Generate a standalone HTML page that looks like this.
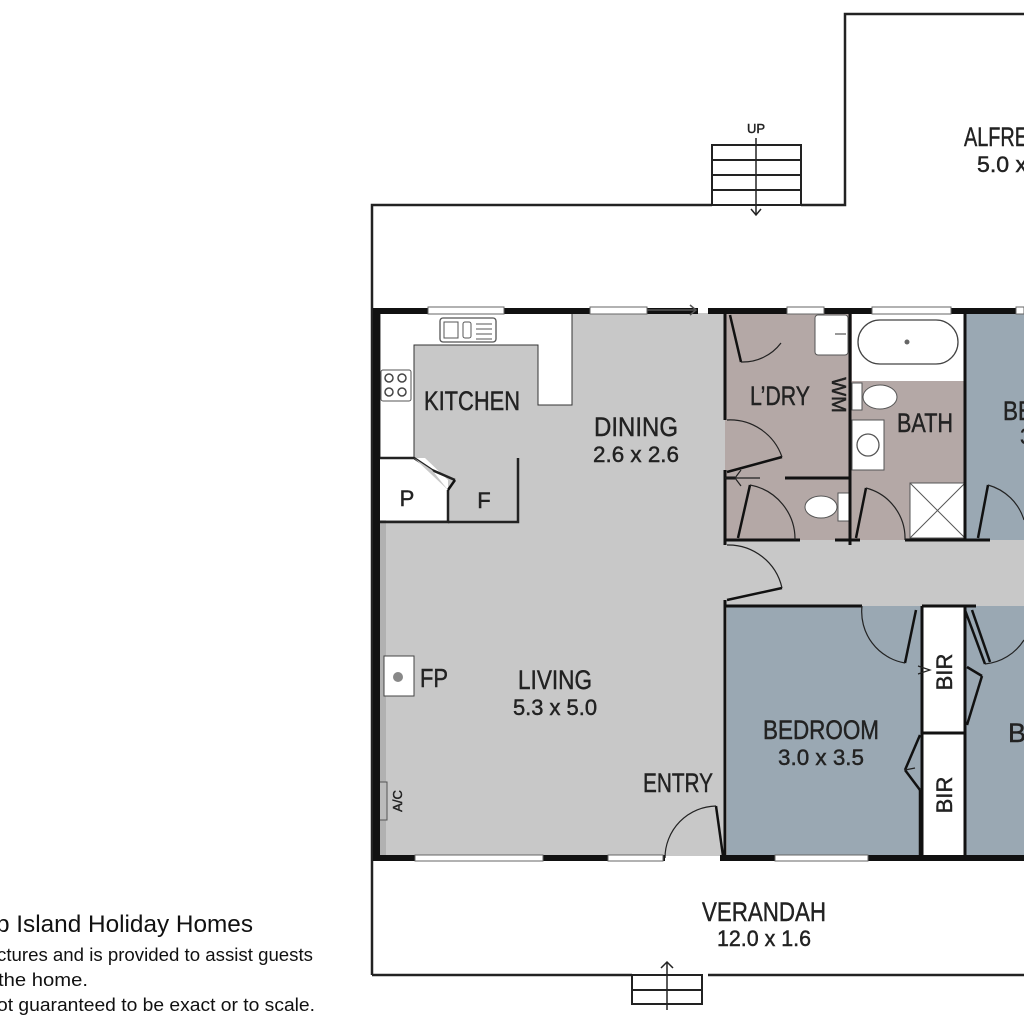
<!DOCTYPE html>
<html><head><meta charset="utf-8"><style>
html,body{margin:0;padding:0;background:#fff;width:1024px;height:1024px;overflow:hidden}
svg{display:block}
text{font-family:"Liberation Sans Narrow","Liberation Sans",sans-serif;fill:#222;stroke:#222;stroke-width:0.45}
.c{font-family:"Liberation Sans",sans-serif;fill:#111;stroke:none}
</style></head><body>
<svg width="1024" height="1024" viewBox="0 0 1024 1024" xmlns="http://www.w3.org/2000/svg">
<g fill="none" stroke="#222" stroke-width="2.5">
<polyline points="372,975 372,205 712,205"/>
<polyline points="801,205 845,205 845,14 1024,14"/>
<polyline points="632,975 372,975"/>
<polyline points="708,975 1024,975"/>
</g>
<g fill="none" stroke="#222" stroke-width="2">
<rect x="712" y="145" width="89" height="60"/>
<line x1="712" y1="160" x2="801" y2="160"/><line x1="712" y1="175" x2="801" y2="175"/><line x1="712" y1="190" x2="801" y2="190"/>
<line x1="756" y1="138" x2="756" y2="215" stroke-width="1.5"/>
<polyline points="751,209 756,215 761,209" stroke-width="1.5"/>
</g>
<text x="756" y="133" font-size="13" text-anchor="middle">UP</text>
<g fill="none" stroke="#222" stroke-width="2">
<rect x="632" y="975" width="70" height="29"/>
<line x1="632" y1="990" x2="702" y2="990"/>
<line x1="667" y1="962" x2="667" y2="1010" stroke-width="1.5"/>
<polyline points="661,968 667,962 673,968" stroke-width="1.5"/>
</g>
<rect x="380" y="313" width="345" height="543" fill="#c8c8c8"/>
<rect x="725" y="540" width="299" height="66" fill="#c8c8c8"/>
<rect x="725" y="313" width="240" height="227" fill="#b4a8a6"/>
<rect x="965" y="313" width="59" height="227" fill="#9aa8b3"/>
<rect x="727" y="606" width="195" height="250" fill="#9aa8b3"/>
<rect x="922" y="606" width="43" height="250" fill="#fff"/>
<rect x="965" y="606" width="59" height="250" fill="#9aa8b3"/>
<rect x="380" y="313" width="6" height="543" fill="#999" opacity=".5"/>
<path d="M380,313 H572 V405 H538 V345 H414 V458 H380 Z" fill="#fff" stroke="#333" stroke-width="1"/>
<path d="M380,458 H425 L448,480 V520 H380 Z" fill="#fff"/>
<g fill="none" stroke="#222" stroke-width="2.5">
<polyline points="380,458 414,458 432,470 455,480"/>
<polyline points="448,490 448,522 380,522"/>
<polyline points="448,522 518,522 518,458"/>
</g>
<rect x="440" y="318" width="56" height="24" rx="3" fill="#fff" stroke="#555" stroke-width="1.3"/>
<rect x="444" y="322" width="14" height="16" fill="none" stroke="#555"/>
<rect x="463" y="322" width="8" height="16" rx="2" fill="none" stroke="#555"/>
<g stroke="#555"><line x1="476" y1="324" x2="492" y2="324"/><line x1="476" y1="329" x2="492" y2="329"/><line x1="476" y1="334" x2="492" y2="334"/><line x1="476" y1="339" x2="492" y2="339"/></g>
<rect x="381" y="370" width="30" height="31" rx="2" fill="#fff" stroke="#555"/>
<g fill="none" stroke="#444" stroke-width="1.5"><circle cx="389" cy="378" r="4"/><circle cx="402" cy="378" r="4"/><circle cx="389" cy="392" r="4"/><circle cx="402" cy="392" r="4"/></g>
<rect x="384" y="656" width="30" height="40" fill="#fff" stroke="#444"/>
<circle cx="398" cy="677" r="5" fill="#888"/>
<rect x="379" y="782" width="8" height="38" fill="#bbb" stroke="#555"/>
<rect x="852" y="313" width="113" height="68" fill="#fff"/>
<rect x="858" y="320" width="100" height="44" rx="22" fill="#fff" stroke="#444" stroke-width="1.3"/>
<circle cx="907" cy="342" r="2.5" fill="#666"/>
<rect x="815" y="315" width="33" height="40" rx="3" fill="#fff" stroke="#555"/>
<line x1="835" y1="334" x2="846" y2="334" stroke="#333"/>
<rect x="852" y="383" width="10" height="27" fill="#fff" stroke="#555"/>
<ellipse cx="880" cy="397" rx="17" ry="12" fill="#fff" stroke="#555"/>
<rect x="852" y="420" width="32" height="50" fill="#fff" stroke="#555"/>
<circle cx="868" cy="445" r="11" fill="#fff" stroke="#555" stroke-width="1.3"/>
<rect x="910" y="483" width="55" height="55" fill="#fff" stroke="#555"/>
<line x1="910" y1="483" x2="965" y2="538" stroke="#555"/><line x1="965" y1="483" x2="910" y2="538" stroke="#555"/>
<rect x="838" y="493" width="11" height="28" fill="#fff" stroke="#555"/>
<ellipse cx="821" cy="507" rx="16" ry="11" fill="#fff" stroke="#555"/>
<g fill="#111">
<rect x="373" y="308" width="325" height="6"/>
<rect x="708" y="308" width="316" height="6"/>
<rect x="373" y="308" width="7" height="553"/>
<rect x="373" y="855" width="292" height="6"/>
<rect x="720" y="855" width="304" height="6"/>
</g>
<g fill="#fff" stroke="#666" stroke-width="1">
<rect x="428" y="307" width="76" height="7"/><rect x="590" y="307" width="57" height="7"/>
<rect x="787" y="307" width="37" height="7"/><rect x="872" y="307" width="79" height="7"/>
<rect x="1016" y="307" width="8" height="7"/>
<rect x="415" y="855" width="128" height="6"/><rect x="608" y="855" width="55" height="6"/>
<rect x="775" y="855" width="93" height="6"/>
</g>
<line x1="647" y1="310" x2="696" y2="310" stroke="#555" stroke-width="1.5"/>
<polyline points="690,305 696,310 690,315" fill="none" stroke="#555" stroke-width="1.5"/>
<g stroke="#111" stroke-width="3" fill="none">
<line x1="725" y1="313" x2="725" y2="420"/>
<line x1="725" y1="470" x2="725" y2="545"/>
<line x1="725" y1="600" x2="725" y2="858"/>
<line x1="850" y1="313" x2="850" y2="545"/>
<line x1="725" y1="478" x2="735" y2="478"/><line x1="785" y1="478" x2="850" y2="478"/>
<line x1="725" y1="540" x2="800" y2="540"/><line x1="835" y1="540" x2="860" y2="540"/><line x1="905" y1="540" x2="990" y2="540"/>
<line x1="965" y1="313" x2="965" y2="540"/>
<line x1="725" y1="606" x2="862" y2="606"/><line x1="922" y1="606" x2="965" y2="606"/><line x1="965" y1="606" x2="976" y2="606"/>
<line x1="922" y1="606" x2="922" y2="856"/>
<line x1="965" y1="606" x2="965" y2="856"/>
<line x1="922" y1="733" x2="965" y2="733"/>
</g>
<g stroke="#111" stroke-width="2.5" fill="none">
<line x1="730" y1="315" x2="741" y2="362"/>
<line x1="727" y1="472" x2="782" y2="457"/>
<line x1="750" y1="485" x2="738" y2="538"/>
<line x1="866" y1="488" x2="856" y2="538"/>
<line x1="988" y1="485" x2="978" y2="538"/>
<line x1="727" y1="600" x2="782" y2="588"/>
<line x1="916" y1="610" x2="905" y2="663"/>
<line x1="965" y1="610" x2="985" y2="664"/>
<line x1="972" y1="610" x2="990" y2="662"/>
<line x1="920" y1="790" x2="905" y2="770"/><line x1="905" y1="770" x2="920" y2="735"/>
<line x1="920" y1="790" x2="920" y2="856"/>
<line x1="967" y1="667" x2="982" y2="676"/><line x1="982" y1="676" x2="967" y2="725"/>
<line x1="716" y1="806" x2="723" y2="856"/>
<line x1="455" y1="480" x2="448" y2="490"/>
</g>
<g stroke="#222" stroke-width="1.2" fill="none">
<path d="M741,362 A48,48 0 0 0 781,343"/>
<path d="M727,420 A55,55 0 0 1 782,457"/>
<path d="M750,485 A55,55 0 0 1 795,540"/>
<path d="M866,488 A52,52 0 0 1 905,540"/>
<path d="M988,485 A52,52 0 0 1 1024,520"/>
<path d="M727,545 A55,55 0 0 1 782,588"/>
<path d="M862,606 A52,52 0 0 0 905,663"/>
<path d="M985,664 A52,52 0 0 0 1024,640"/>
<path d="M716,806 A52,52 0 0 0 665,858"/>
<path d="M725,478 L760,478 M741,470 L735,478 L741,486"/>
<path d="M918,666 L930,670 L918,674"/>
<path d="M905,770 L915,768"/>
</g>
<path d="M414,458 L432,470 448,490 Z" fill="#c8c8c8"/>
<text x="472" y="410" font-size="27" text-anchor="middle" textLength="96" lengthAdjust="spacingAndGlyphs">KITCHEN</text>
<text x="636" y="436" font-size="27" text-anchor="middle" textLength="84" lengthAdjust="spacingAndGlyphs">DINING</text>
<text x="636" y="462" font-size="22" text-anchor="middle" textLength="86" lengthAdjust="spacingAndGlyphs">2.6 x 2.6</text>
<text x="407" y="506" font-size="22" text-anchor="middle">P</text>
<text x="484" y="508" font-size="22" text-anchor="middle">F</text>
<text x="555" y="689" font-size="27" text-anchor="middle" textLength="74" lengthAdjust="spacingAndGlyphs">LIVING</text>
<text x="555" y="715" font-size="22" text-anchor="middle" textLength="84" lengthAdjust="spacingAndGlyphs">5.3 x 5.0</text>
<text x="434" y="687" font-size="26" text-anchor="middle" textLength="28" lengthAdjust="spacingAndGlyphs">FP</text>
<text x="678" y="792" font-size="27" text-anchor="middle" textLength="70" lengthAdjust="spacingAndGlyphs">ENTRY</text>
<text x="780" y="405" font-size="27" text-anchor="middle" textLength="60" lengthAdjust="spacingAndGlyphs">L’DRY</text>
<text x="925" y="432" font-size="27" text-anchor="middle" textLength="56" lengthAdjust="spacingAndGlyphs">BATH</text>
<text x="1003" y="420" font-size="27" textLength="30" lengthAdjust="spacingAndGlyphs">BE</text>
<text x="1020" y="444" font-size="22">3</text>
<text x="821" y="739" font-size="27" text-anchor="middle" textLength="116" lengthAdjust="spacingAndGlyphs">BEDROOM</text>
<text x="821" y="765" font-size="22" text-anchor="middle" textLength="86" lengthAdjust="spacingAndGlyphs">3.0 x 3.5</text>
<text x="1008" y="742" font-size="27">B</text>
<text x="764" y="921" font-size="27" text-anchor="middle" textLength="124" lengthAdjust="spacingAndGlyphs">VERANDAH</text>
<text x="764" y="946" font-size="22" text-anchor="middle" textLength="94" lengthAdjust="spacingAndGlyphs">12.0 x 1.6</text>
<text x="964" y="146" font-size="27" textLength="64" lengthAdjust="spacingAndGlyphs">ALFRE</text>
<text x="977" y="172" font-size="22" textLength="50" lengthAdjust="spacingAndGlyphs">5.0 x</text>
<text transform="translate(832,395) rotate(90)" font-size="20" text-anchor="middle">WM</text>
<text transform="translate(952,672) rotate(-90)" font-size="22" text-anchor="middle">BIR</text>
<text transform="translate(952,795) rotate(-90)" font-size="22" text-anchor="middle">BIR</text>
<text transform="translate(402,801) rotate(-90)" font-size="13" text-anchor="middle">A/C</text>
<text class="c" x="-4" y="932" font-size="24" textLength="257" lengthAdjust="spacingAndGlyphs">p Island Holiday Homes</text>
<text class="c" x="-3" y="961" font-size="18.5" textLength="316" lengthAdjust="spacingAndGlyphs">ctures and is provided to assist guests</text>
<text class="c" x="-2" y="986" font-size="18.5" textLength="90" lengthAdjust="spacingAndGlyphs">the home.</text>
<text class="c" x="-3" y="1011" font-size="18.5" textLength="318" lengthAdjust="spacingAndGlyphs">ot guaranteed to be exact or to scale.</text>
</svg>
</body></html>
